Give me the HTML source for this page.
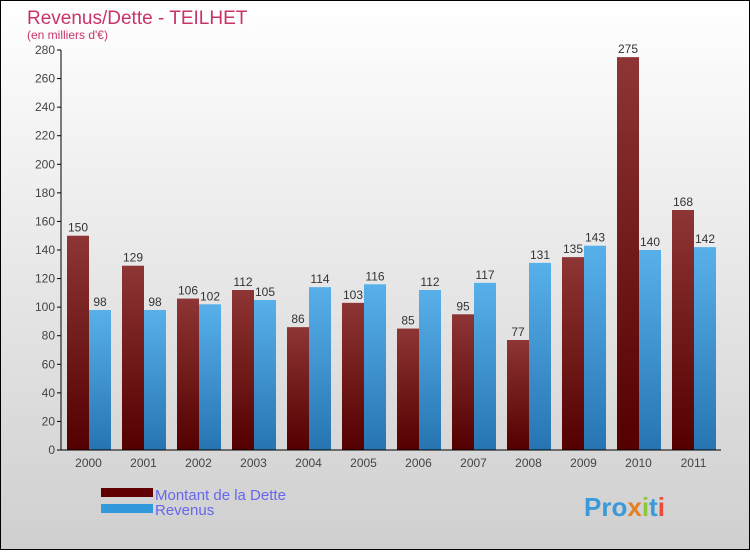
<!DOCTYPE html>
<html><head><meta charset="utf-8"><style>
body{margin:0;}
#c{width:748px;height:548px;border:1px solid #000;background:linear-gradient(#fff,#cfcfcf);position:relative;font-family:"Liberation Sans",sans-serif;}
</style></head><body>
<div id="c">
<svg id="s" width="748" height="548" xmlns="http://www.w3.org/2000/svg">
<defs>
<linearGradient id="gd" x1="0" y1="0" x2="0" y2="1"><stop offset="0" stop-color="#8e3535"/><stop offset="1" stop-color="#540000"/></linearGradient>
<linearGradient id="gr" x1="0" y1="0" x2="0" y2="1"><stop offset="0" stop-color="#58b0ea"/><stop offset="1" stop-color="#2675b2"/></linearGradient>
</defs>
<text x="26" y="23" font-size="19" fill="#c8336a">Revenus/Dette - TEILHET</text>
<text x="26" y="38" font-size="12" fill="#c8336a">(en milliers d'€)</text>
<g id="bars"></g>
<g id="ax"></g>
<rect x="100" y="487" width="52" height="9" fill="#600000"/>
<rect x="100" y="503" width="52" height="9" fill="#3399dd"/>
<text x="154" y="499" font-size="15" fill="#6666ee">Montant de la Dette</text>
<text x="154" y="514" font-size="15" fill="#6666ee">Revenus</text>
<text x="583" y="515" font-size="26" font-weight="bold" fill="#3a9ad9">Pro<tspan fill="#e67e22">x</tspan><tspan fill="#8cc63f">i</tspan>t<tspan fill="#e74c3c">i</tspan></text>
</svg>
</div>
<script>
const years=["2000","2001","2002","2003","2004","2005","2006","2007","2008","2009","2010","2011"];
const dette=[150,129,106,112,86,103,85,95,77,135,275,168];
const revenus=[98,98,102,105,114,116,112,117,131,143,140,142];
const ticks=[0,20,40,60,80,100,120,140,160,180,200,220,240,260,280];
const NS="http://www.w3.org/2000/svg";
const x0=60,gw=55,y0=449,k=400/280;
const Y=v=>y0-v*k;
function mk(t,a,p){const e=document.createElementNS(NS,t);for(const n in a)e.setAttribute(n,a[n]);p.appendChild(e);return e;}
const bars=document.getElementById('bars'),ax=document.getElementById('ax');
ticks.forEach(t=>{
 const l=mk('line',{x1:56,x2:60,y1:Y(t),y2:Y(t),stroke:'#000'},ax);
 
 
 const tx=mk('text',{x:54,y:Y(t)+4,'font-size':12,fill:'#444','text-anchor':'end'},ax);tx.textContent=t;
 
 
});
const yl=mk('line',{x1:60,x2:60,y1:Y(280),y2:y0,stroke:'#000'},ax);


const xl=mk('line',{x1:60,x2:720,y1:y0,y2:y0,stroke:'#000'},ax);


years.forEach((yr,i)=>{
 const s=x0+i*gw;
 [[dette[i],s+6,'url(#gd)','bar-dette-'+yr],[revenus[i],s+28,'url(#gr)','bar-revenus-'+yr]].forEach(([v,x,f,n])=>{
  const r=mk('rect',{x:x,y:Y(v),width:22,height:y0-Y(v),fill:f},bars);
  
  
  const t=mk('text',{x:x+11,y:Y(v)-4,'font-size':12,fill:'#333','text-anchor':'middle'},bars);t.textContent=v;
  
  
 });
 const t=mk('text',{x:s+27.5,y:466,'font-size':12,fill:'#444','text-anchor':'middle'},ax);t.textContent=yr;
 
 
});
</script>
</body></html>
